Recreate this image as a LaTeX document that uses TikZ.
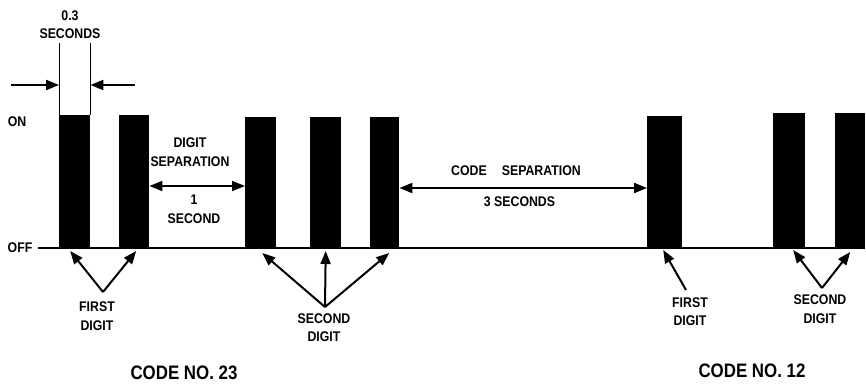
\documentclass[tikz,border=0pt]{standalone}
\usepackage{fontspec}
\setmainfont{Liberation Sans}
\usetikzlibrary{arrows.meta,positioning}
\newcommand\cnd[1]{\scalebox{0.88}[1]{#1}}
\newcommand\bcnd[1]{\scalebox{0.866}[1]{#1}}

\begin{document}
\begin{tikzpicture}[x=1pt,y=-1pt,font=\bfseries\fontsize{14}{18.5}\selectfont,>={Triangle[length=13pt,width=10pt]},
  bar/.style={fill=black,inner sep=0pt,anchor=south west},
  lbl/.style={align=center,inner sep=1pt},
  big/.style={font=\bfseries\fontsize{19.5}{22}\selectfont}]
  \useasboundingbox (0,0) rectangle (866,384);
  % pulses: index/left/width/top
  \foreach \i/\x/\w/\t in {1/59/31/115,2/119/30/115,3/245/31/117,4/310/31/117,
                            5/370/29/117,6/647/35/116,7/773/32/113,8/835/30/113} {
    \pgfmathsetmacro\h{248-\t}
    \node[bar,minimum width=\w pt,minimum height=\h pt] (b\i) at (\x,248) {};
  }
  \node (on) at (17,122) {\cnd{ON}};
  \node (off) at (20,248) {\cnd{OFF}};
  \coordinate (off0) at (38,248);
  \draw[line width=2pt] (off0) -- (b8.south east);
  % pulse width
  \node[lbl] (wid) at (70,24.5) {\cnd{0.3}\\\cnd{SECONDS}};
  \draw[line width=1pt] (b1.north west) -- (b1.north west |- 0,43);
  \draw[line width=1pt] (b1.north east) -- (b1.north east |- 0,43);
  \coordinate (wl) at (11,85);
  \coordinate (wr) at (135,85);
  \draw[->,line width=2pt] (wl) -- (wl -| b1.west);
  \draw[->,line width=2pt] (wr) -- (wr -| b1.east);
  % separations
  \node[lbl] (dsep) at (190,152) {\cnd{DIGIT}\\\cnd{SEPARATION}};
  \node[lbl] (dsec) at (194,209) {\cnd{1}\\\cnd{SECOND}};
  \coordinate (dy) at (0,186);
  \draw[<->,line width=2pt] (dy -| b2.east) -- (dy -| b3.west);
  \node[lbl] (csep) at (516,171) {\cnd{CODE}\hspace{15pt}\cnd{SEPARATION}};
  \node[lbl] (csec) at (519.5,202) {\cnd{3 SECONDS}};
  \coordinate (cy) at (0,188);
  \draw[<->,line width=2pt] (cy -| b5.east) -- (cy -| b6.west);
  % digit labels
  \coordinate (fa) at (103,292);
  \node[lbl] (fd1) at (97,316) {\cnd{FIRST}\\\cnd{DIGIT}};
  \draw[->,line width=2pt] (fa) -- ([xshift=-4.5pt,yshift=-3pt]b1.south);
  \draw[->,line width=2pt] (fa) -- ([xshift=2pt,yshift=-3pt]b2.south);
  \coordinate (sa) at (325,307);
  \node[lbl] (sd1) at (324,327.5) {\cnd{SECOND}\\\cnd{DIGIT}};
  \draw[->,line width=2pt] (sa) -- ([xshift=1.5pt,yshift=-5pt]b3.south);
  \draw[->,line width=2pt] (sa) -- ([yshift=-3pt]b4.south);
  \draw[->,line width=2pt] (sa) -- ([xshift=4.5pt,yshift=-5pt]b5.south);
  \coordinate (fb) at (686,290);
  \node[lbl] (fd2) at (690,311.5) {\cnd{FIRST}\\\cnd{DIGIT}};
  \draw[->,line width=2pt] (fb) -- ([xshift=-1.5pt,yshift=-2pt]b6.south);
  \coordinate (sb) at (822,288);
  \node[lbl] (sd2) at (820,309) {\cnd{SECOND}\\\cnd{DIGIT}};
  \draw[->,line width=2pt] (sb) -- ([xshift=4pt,yshift=-2pt]b7.south);
  \draw[->,line width=2pt] (sb) -- ([yshift=-4pt]b8.south);
  % code names
  \node[big] (c23) at (184,373) {\bcnd{CODE NO. 23}};
  \node[big] (c12) at (752,371) {\bcnd{CODE NO. 12}};
\end{tikzpicture}
\end{document}
